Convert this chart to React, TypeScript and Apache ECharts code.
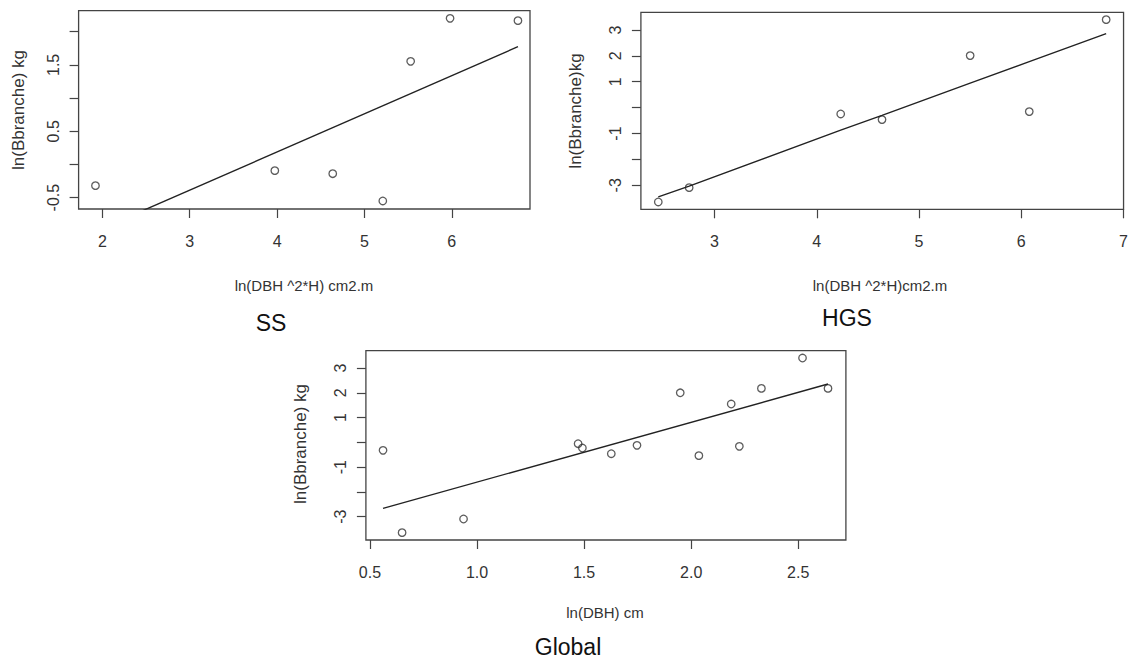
import React, { useEffect, useRef } from "react";
import * as echarts from "echarts";

// ---- SS panel ----
const ssX = [1.921, 3.974, 4.637, 5.21, 5.529, 5.98, 6.757];
const ssY = [-0.319, -0.093, -0.139, -0.55, 1.553, 2.201, 2.166];
const ssFitX = [1.921, 6.757];
const ssFitY = [-1.007, 1.774];
const ssXTicks = [2, 3, 4, 5, 6];
const ssYTicks = [-0.5, 0, 0.5, 1, 1.5, 2];
const ssYLabels = [-0.5, 0.5, 1.5];

// ---- HGS panel ----
const hgsX = [2.45, 2.752, 4.234, 4.638, 5.5, 6.078, 6.83];
const hgsY = [-3.643, -3.09, -0.245, -0.463, 2.009, -0.154, 3.399];
const hgsFitY = [-3.45, -3.03, -0.87, -0.3, 0.944, 1.776, 2.858];
const hgsXTicks = [3, 4, 5, 6, 7];
const hgsYTicks = [-3, -2, -1, 0, 1, 2, 3];
const hgsYLabels = [-3, -1, 1, 2, 3];

// ---- Global panel ----
const glX = [0.561, 0.65, 0.937, 1.472, 1.492, 1.627, 1.747, 1.949, 2.036, 2.187, 2.225, 2.328, 2.52, 2.639];
const glY = [-0.323, -3.646, -3.094, -0.054, -0.229, -0.458, -0.121, 2.0, -0.538, 1.547, -0.162, 2.179, 3.404, 2.179];
const glFitX = [0.561, 2.639];
const glFitY = [-2.664, 2.354];
const glXTicks = [0.5, 1.0, 1.5, 2.0, 2.5];
const glYTicks = [-3, -2, -1, 0, 1, 2, 3];
const glYLabels = [-3, -1, 1, 2, 3];

const FONT = "'Liberation Sans',Arial,sans-serif";
const INK = "#333";

function zip(a: number[], b: number[]) {
  return a.map((v, i) => [v, b[i]]);
}

function xAxis(grid: number, min: number, max: number, ticks: number[], fmt?: (v: number) => string) {
  return {
    gridIndex: grid,
    type: "value",
    min,
    max,
    axisLine: { show: false, onZero: false },
    splitLine: { show: false },
    axisTick: { show: true, length: 9, lineStyle: { color: "#444", width: 1.2 }, customValues: ticks },
    axisLabel: {
      customValues: ticks,
      margin: 24,
      fontSize: 16,
      color: INK,
      fontFamily: FONT,
      formatter: fmt ? (v: number) => fmt(v) : (v: number) => String(v),
    },
  };
}

function yAxis(grid: number, min: number, max: number, ticks: number[], labels: number[]) {
  return {
    gridIndex: grid,
    type: "value",
    min,
    max,
    axisLine: { show: false, onZero: false },
    splitLine: { show: false },
    axisTick: { show: true, length: 9, lineStyle: { color: "#444", width: 1.2 }, customValues: ticks },
    axisLabel: {
      customValues: labels,
      rotate: 90,
      margin: 17,
      fontSize: 16,
      color: INK,
      fontFamily: FONT,
      formatter: (v: number) => String(v),
    },
  };
}

const scatterStyle = {
  symbol: "circle",
  symbolSize: 7.5,
  itemStyle: { color: "rgba(0,0,0,0)", borderColor: "#333", borderWidth: 1.3 },
};

const lineStyleSeries = {
  showSymbol: false,
  symbol: "none",
  lineStyle: { color: "#222", width: 1.4 },
  clip: true,
};

export default function App() {
  const ref = useRef<HTMLDivElement>(null);
  useEffect(() => {
    if (!ref.current) return;
    const chart = echarts.init(ref.current, undefined, { renderer: "svg" });
    const gridBase = { show: true, borderColor: "#444", borderWidth: 1.3, backgroundColor: "transparent", containLabel: false };
    const option = {
      animation: false,
      backgroundColor: "#fff",
      grid: [
        { ...gridBase, left: 78.6, top: 10.7, width: 451.4, height: 198.3 },
        { ...gridBase, left: 640.9, top: 12.3, width: 485.3, height: 197 },
        { ...gridBase, left: 365.9, top: 350.7, width: 480, height: 189.3 },
      ],
      xAxis: [
        xAxis(0, 1.728, 6.895, ssXTicks),
        xAxis(1, 2.28, 7.0, hgsXTicks),
        xAxis(2, 0.481, 2.7226, glXTicks, (v) => v.toFixed(1)),
      ],
      yAxis: [
        yAxis(0, -0.671, 2.316, ssYTicks, ssYLabels),
        yAxis(1, -3.927, 3.682, hgsYTicks, hgsYLabels),
        yAxis(2, -3.942, 3.7, glYTicks, glYLabels),
      ],
      series: [
        { type: "scatter", xAxisIndex: 0, yAxisIndex: 0, data: zip(ssX, ssY), ...scatterStyle },
        { type: "line", xAxisIndex: 0, yAxisIndex: 0, data: zip(ssFitX, ssFitY), ...lineStyleSeries },
        { type: "scatter", xAxisIndex: 1, yAxisIndex: 1, data: zip(hgsX, hgsY), ...scatterStyle },
        { type: "line", xAxisIndex: 1, yAxisIndex: 1, data: zip(hgsX, hgsFitY), ...lineStyleSeries },
        { type: "scatter", xAxisIndex: 2, yAxisIndex: 2, data: zip(glX, glY), ...scatterStyle },
        { type: "line", xAxisIndex: 2, yAxisIndex: 2, data: zip(glFitX, glFitY), ...lineStyleSeries },
      ],
      graphic: [
        // x-axis titles
        { type: "text", x: 304, y: 285, style: { text: "ln(DBH ^2*H) cm2.m", align: "center", verticalAlign: "middle", fontSize: 15, fontFamily: FONT, fill: INK } },
        { type: "text", x: 880, y: 285, style: { text: "ln(DBH ^2*H)cm2.m", align: "center", verticalAlign: "middle", fontSize: 15, fontFamily: FONT, fill: INK } },
        { type: "text", x: 605, y: 612, style: { text: "ln(DBH) cm", align: "center", verticalAlign: "middle", fontSize: 15, fontFamily: FONT, fill: INK } },
        // y-axis titles
        { type: "text", x: 18, y: 110, rotation: Math.PI / 2, style: { text: "ln(Bbranche) kg", align: "center", verticalAlign: "middle", fontSize: 17, fontFamily: FONT, fill: INK } },
        { type: "text", x: 575, y: 111, rotation: Math.PI / 2, style: { text: "ln(Bbranche)kg", align: "center", verticalAlign: "middle", fontSize: 17, fontFamily: FONT, fill: INK } },
        { type: "text", x: 300, y: 444, rotation: Math.PI / 2, style: { text: "ln(Bbranche) kg", align: "center", verticalAlign: "middle", fontSize: 17, fontFamily: FONT, fill: INK } },
        // panel labels
        { type: "text", x: 271, y: 323, style: { text: "SS", align: "center", verticalAlign: "middle", fontSize: 23, fontFamily: FONT, fill: "#111" } },
        { type: "text", x: 847, y: 318, style: { text: "HGS", align: "center", verticalAlign: "middle", fontSize: 23, fontFamily: FONT, fill: "#111" } },
        { type: "text", x: 568, y: 647, style: { text: "Global", align: "center", verticalAlign: "middle", fontSize: 23, fontFamily: FONT, fill: "#111" } },
      ],
    };
    chart.setOption(option as any);
    return () => chart.dispose();
  }, []);
  return (
    <div
      ref={ref}
      style={{ position: "fixed", left: 0, top: 0, width: "1131px", height: "661px", background: "#fff" }}
    />
  );
}
